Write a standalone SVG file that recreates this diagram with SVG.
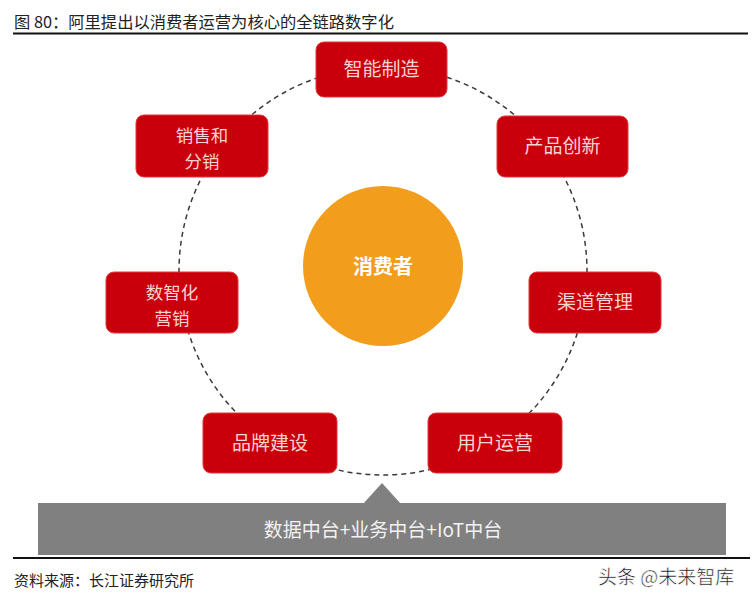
<svg xmlns="http://www.w3.org/2000/svg" width="753" height="602" viewBox="0 0 753 602">
<style>
  .box { fill: #c9000b; stroke: #e0383f; stroke-width: 1; }
  .lbl { font-family: "Noto Sans CJK SC", "Liberation Sans", sans-serif; font-size: 19px; fill: #fbd3d3; text-anchor: middle; }
  .lbl2 { font-family: "Noto Sans CJK SC", "Liberation Sans", sans-serif; font-size: 17.5px; fill: #fbd3d3; text-anchor: middle; }
  .cap { font-family: "Noto Sans CJK SC", "Liberation Sans", sans-serif; fill: #222; }
  .ring { fill: none; stroke: #3a3a3a; stroke-width: 1.5; stroke-dasharray: 5 4; }
</style>
<rect width="753" height="602" fill="#ffffff"/>
<g id="title">
  <text class="cap" x="14" y="28" font-size="16.3">图 80：阿里提出以消费者运营为核心的全链路数字化</text>
  <line x1="13" y1="33.5" x2="748" y2="33.5" stroke="#111" stroke-width="2"/>
</g>
<g id="connectors">
  <circle class="ring" cx="383" cy="271" r="204"/>
</g>
<g id="consumer">
  <circle cx="383" cy="266" r="80" fill="#f29d1c"/>
  <text x="383" y="274" font-family="'Noto Sans CJK SC', 'Liberation Sans', sans-serif" font-size="20" font-weight="bold" fill="#ffffff" text-anchor="middle">消费者</text>
</g>
<g id="node-zhineng">
  <rect class="box" x="316" y="42" width="131" height="55" rx="8"/>
  <text class="lbl" x="381.5" y="76">智能制造</text>
</g>
<g id="node-chanpin">
  <rect class="box" x="497" y="116" width="131" height="61" rx="8"/>
  <text class="lbl" x="562.5" y="153">产品创新</text>
</g>
<g id="node-qudao">
  <rect class="box" x="529" y="272" width="132" height="61" rx="8"/>
  <text class="lbl" x="595" y="309">渠道管理</text>
</g>
<g id="node-yonghu">
  <rect class="box" x="428" y="413" width="134" height="60" rx="8"/>
  <text class="lbl" x="495" y="450">用户运营</text>
</g>
<g id="node-pinpai">
  <rect class="box" x="203" y="413" width="134" height="60" rx="8"/>
  <text class="lbl" x="270" y="450">品牌建设</text>
</g>
<g id="node-shuzhi">
  <rect class="box" x="106" y="272" width="132" height="61" rx="8"/>
  <text class="lbl2" x="172" y="298.5">数智化</text>
  <text class="lbl2" x="172" y="324.5">营销</text>
</g>
<g id="node-xiaoshou">
  <rect class="box" x="136" y="115" width="132" height="62" rx="8"/>
  <text class="lbl2" x="202" y="142">销售和</text>
  <text class="lbl2" x="202" y="168">分销</text>
</g>
<g id="platform">
  <polygon points="382,483 363,504 401,504" fill="#808080"/>
  <rect x="38" y="503" width="688" height="52" fill="#808080"/>
  <text x="383" y="537" font-family="'Noto Sans CJK SC', 'Liberation Sans', sans-serif" font-size="19" fill="#f2f2f2" text-anchor="middle">数据中台+业务中台+IoT中台</text>
</g>
<g id="footer">
  <line x1="13" y1="558" x2="750" y2="558" stroke="#111" stroke-width="2"/>
  <text class="cap" x="14" y="586" font-size="15" fill="#333">资料来源：长江证券研究所</text>
  <text x="598" y="584" font-family="'Noto Sans CJK SC', 'Liberation Sans', sans-serif" font-size="19" fill="#111" stroke="#ffffff" stroke-width="0.5">头条 @未来智库</text>
</g>
</svg>
